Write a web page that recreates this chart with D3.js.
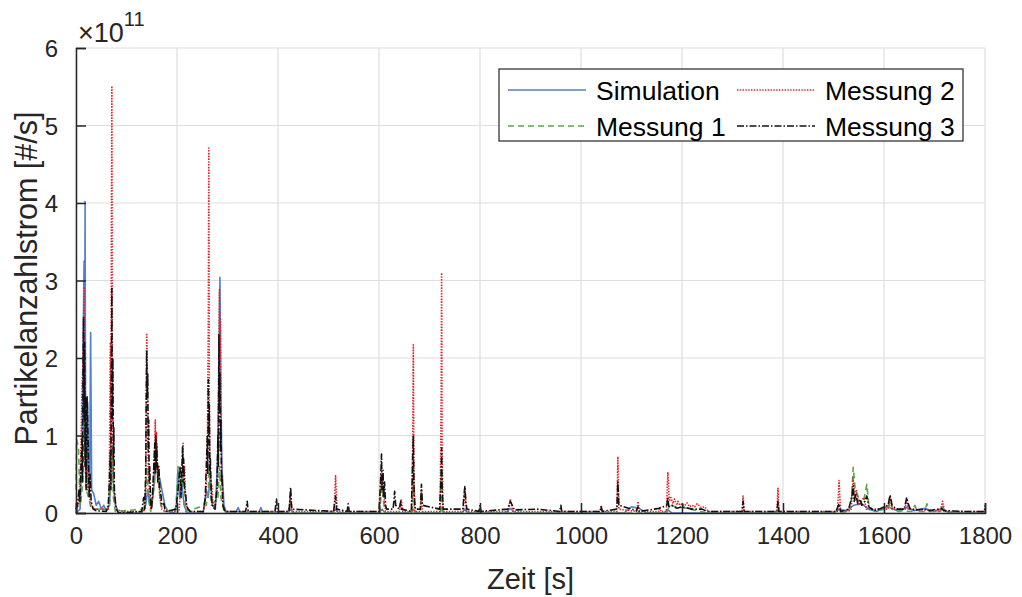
<!DOCTYPE html>
<html>
<head>
<meta charset="utf-8">
<script src="https://cdn.jsdelivr.net/npm/d3@7"></script>
<style>
  html, body { margin: 0; padding: 0; background: #fff; }
  svg { display: block; font-family: "Liberation Sans", Arial, Helvetica, sans-serif; }
</style>
</head>
<body>
<svg id="chart" width="1022" height="597"></svg>
<script>
// Particle number flow over time, in units of 1e11 #/s: [time s, value]
const simulation = [
  [0,0],[8,0.05],[11,0.6],[13,1.5],[16,3.25],[17,0.8],[18,4.02],[19,1.0],[21,0.4],[23,1.43],[25,0.6],[27,0.35],[29,2.33],[31,0.3],
  [35,0.25],[40,0.1],[45,0.15],[50,0.05],[55,0.1],[60,0.03],[66,0.1],[70,0.5],[72,0.85],[74,0.4],[78,0.1],[85,0],
  [130,0],[138,0.1],[142,0.3],[146,0.1],[152,0.2],[158,0.6],[164,0.5],[170,0.3],[176,0.1],[182,0.02],[195,0],
  [199,0.1],[202,0.55],[205,0.2],[210,0.35],[214,0.1],[220,0],[252,0],[258,0.3],[262,0.2],[266,0.5],[270,0.1],[276,0.05],
  [281,0.8],[283,1.8],[285,3.04],[287,1.5],[289,0.6],[293,0.1],[298,0],[316,0],[321,0.07],[326,0],[362,0],[366,0.07],[370,0],
  [420,0],[425,0.05],[430,0],[508,0],[514,0.05],[520,0],[600,0],[606,0.05],[612,0],[664,0],[668,0.05],[674,0],
  [720,0],[724,0.05],[730,0],[764,0],[770,0.05],[776,0],[850,0],[860,0.06],[870,0],[1085,0],[1100,0.08],[1115,0.06],[1130,0],
  [1165,0],[1172,0.04],[1180,0],[1500,0],[1512,0.05],[1525,0.02],[1540,0.1],[1555,0.12],[1570,0.05],[1585,0.02],
  [1605,0.08],[1615,0.06],[1630,0.02],[1645,0.07],[1660,0.03],[1680,0.06],[1700,0.02],[1715,0.06],[1730,0],[1800,0]
];

const messung1 = [
  [0,0.3],[1,0.95],[3,0.9],[5,0.85],[7,0.3],[9,0.1],[12,0.3],[14,0.5],[16,1.5],[18,0.8],[20,0.3],[25,0.2],[30,0.05],
  [66,0.05],[70,0.5],[72,0.8],[74,0.2],[78,0.02],[136,0.05],[140,0.6],[143,0.2],[148,0.02],
  [154,0.3],[157,0.5],[160,0.9],[163,0.4],[168,0.1],[175,0.02],[197,0.05],[200,0.3],[202,0.6],[206,0.5],[210,0.3],[213,0.5],[217,0.02],
  [258,0.1],[262,0.3],[264,0.6],[268,0.1],[281,0.2],[284,0.6],[287,0.2],[293,0.02],[420,0],[425,0.2],[428,0],
  [602,0],[605,0.4],[608,0.2],[612,0],[666,0],[668,0.6],[670,0],[722,0],[724,0.5],[726,0],[1170,0],[1175,0.1],[1190,0.08],[1210,0.06],[1250,0],
  [1530,0],[1536,0.2],[1539,0.59],[1543,0.3],[1550,0.2],[1558,0.1],[1566,0.37],[1570,0.1],[1580,0.03],[1608,0.05],[1612,0.15],[1618,0.03],
  [1655,0.02],[1661,0.1],[1666,0.02],[1680,0.02],[1685,0.12],[1690,0.02],[1712,0.02],[1716,0.1],[1720,0],[1800,0]
];

const messung2 = [
  [0,0.05],[5,0.1],[8,0.4],[10,0.9],[12,1.6],[14,2.0],[16,2.92],[17,1.2],[18,1.8],[19,0.5],[21,0.8],[23,0.3],[25,0.6],[27,0.2],[30,0.1],[35,0.05],
  [64,0.05],[66,0.4],[68,2.2],[69,0.8],[70,3.5],[71,5.51],[72,2.0],[73,1.0],[74,0.4],[76,0.2],[80,0.05],[90,0.02],
  [134,0.02],[136,0.05],[138,0.3],[139,1.3],[140,2.32],[141,2.0],[142,1.3],[143,0.6],[145,0.3],[148,0.05],
  [152,0.2],[155,0.6],[157,1.2],[158,0.7],[159,1.05],[161,0.5],[163,0.6],[166,0.2],[170,0.05],[176,0.02],
  [204,0.02],[207,0.3],[209,0.5],[211,0.7],[212,0.9],[213,0.5],[215,0.6],[217,0.2],[220,0.05],[226,0.02],
  [252,0.02],[257,0.2],[260,0.8],[262,2.5],[263,4.71],[264,1.5],[265,0.8],[267,0.3],[269,0.36],[271,0.1],[274,0.05],
  [280,0.3],[282,1.5],[284,2.88],[285,2.0],[286,2.5],[287,1.0],[289,0.4],[291,0.1],[295,0.02],
  [422,0.02],[425,0.25],[428,0.02],[511,0.02],[514,0.48],[517,0.02],[601,0.02],[604,0.5],[606,0.3],[608,0.47],[610,0.2],[613,0.02],
  [641,0.02],[644,0.18],[647,0.02],[665,0.02],[667,1.2],[668,2.17],[669,0.6],[671,0.02],[682,0.02],[684,0.3],[686,0.02],
  [721,0.02],[723,1.5],[724,3.1],[725,0.8],[727,0.02],[767,0.02],[770,0.33],[773,0.02],[856,0.02],[860,0.18],[865,0.02],
  [1038,0.02],[1040,0.1],[1042,0.02],[1071,0.02],[1073,0.73],[1075,0.05],[1110,0.02],[1113,0.15],[1116,0.02],
  [1154,0.02],[1156,0.08],[1158,0.02],[1169,0.02],[1172,0.52],[1175,0.15],[1178,0.2],[1182,0.12],[1185,0.18],[1190,0.1],[1192,0.15],
  [1196,0.1],[1200,0.12],[1205,0.09],[1210,0.13],[1215,0.08],[1220,0.1],[1225,0.08],[1230,0.12],[1238,0.07],[1245,0.08],[1252,0.02],
  [1319,0.02],[1321,0.22],[1323,0.02],[1388,0.02],[1390,0.32],[1392,0.02],[1508,0.02],[1511,0.42],[1514,0.02],
  [1535,0.05],[1539,0.45],[1542,0.15],[1545,0.3],[1550,0.1],[1560,0.2],[1565,0.05],[1608,0.05],[1612,0.22],[1616,0.05],
  [1642,0.05],[1645,0.18],[1648,0.05],[1712,0.03],[1716,0.15],[1720,0.02],[1800,0.02]
];

const messung3 = [
  [0,0.05],[3,0.1],[6,0.3],[8,0.15],[10,0.6],[12,1.0],[13,0.4],[14,1.8],[15,2.53],[16,1.2],[17,2.2],[18,0.6],[19,1.5],[20,0.3],
  [22,1.5],[24,0.9],[26,0.2],[28,0.5],[30,0.15],[34,0.05],[40,0.03],[60,0.02],[64,0.1],[66,0.4],[68,0.8],[69,0.3],[70,1.6],
  [71,2.9],[72,1.2],[73,2.0],[74,0.7],[75,1.1],[76,0.3],[78,0.15],[80,0.05],[84,0],[130,0.02],[134,0.2],[136,0.05],[138,0.5],
  [139,1.4],[140,2.1],[141,1.5],[142,1.8],[143,0.8],[144,1.2],[145,0.4],[146,0.6],[148,0.1],[150,0.05],[152,0.3],[154,0.6],
  [156,0.9],[157,0.5],[158,1.0],[159,0.6],[160,0.85],[162,0.4],[164,0.6],[166,0.3],[168,0.25],[170,0.1],[174,0.12],[176,0.05],
  [180,0.02],[198,0.05],[202,0.3],[206,0.6],[208,0.2],[211,0.85],[212,0.4],[213,0.7],[215,0.3],[217,0.25],[219,0.1],[222,0.05],
  [226,0.02],[252,0.02],[256,0.2],[258,0.6],[260,1.0],[261,0.5],[262,1.72],[263,1.0],[264,1.4],[265,0.5],[266,0.7],[268,0.2],
  [270,0.1],[275,0.05],[279,0.3],[281,1.0],[282,0.6],[283,2.3],[284,1.3],[285,1.8],[286,0.8],[287,1.2],[288,0.4],[289,0.5],
  [291,0.1],[295,0.02],[336,0.02],[339,0.15],[341,0.02],[394,0.02],[397,0.18],[399,0.02],[422,0.02],[425,0.33],[427,0.05],
  [510,0.02],[514,0.22],[516,0.05],[537,0.02],[539,0.12],[541,0.02],[600,0.02],[603,0.4],[605,0.76],[606,0.3],[608,0.55],
  [609,0.2],[611,0.4],[613,0.1],[615,0.05],[628,0.05],[631,0.28],[633,0.1],[640,0.05],[643,0.15],[645,0.05],[664,0.02],
  [666,0.5],[668,1.0],[669,0.4],[670,0.2],[672,0.05],[682,0.05],[684,0.37],[686,0.1],[720,0.05],[723,0.5],[724,0.84],
  [725,0.3],[727,0.05],[766,0.05],[768,0.2],[770,0.34],[772,0.15],[774,0.05],[798,0.02],[800,0.1],[802,0.02],[855,0.05],
  [860,0.15],[864,0.1],[868,0.04],[913,0.05],[958,0.02],[960,0.1],[962,0.02],[1038,0.02],[1040,0.08],[1042,0.02],[1071,0.05],
  [1073,0.4],[1075,0.1],[1110,0.03],[1113,0.08],[1115,0.02],[1155,0.06],[1170,0.1],[1172,0.2],[1174,0.08],[1180,0.1],
  [1190,0.06],[1200,0.08],[1220,0.05],[1240,0.05],[1250,0.02],[1319,0.02],[1321,0.15],[1323,0.02],[1388,0.02],[1390,0.15],
  [1392,0.02],[1505,0.02],[1511,0.12],[1514,0.02],[1530,0.05],[1536,0.2],[1539,0.35],[1541,0.15],[1544,0.25],[1548,0.12],
  [1552,0.18],[1556,0.1],[1562,0.15],[1566,0.22],[1570,0.08],[1580,0.03],[1590,0.05],[1608,0.1],[1612,0.23],[1616,0.1],
  [1625,0.05],[1640,0.05],[1645,0.2],[1648,0.12],[1652,0.05],[1665,0.04],[1680,0.05],[1690,0.03],[1714,0.06],[1718,0.03],
  [1760,0.02],[1799,0.02],[1800,0.1]
];

const xTicks = [0, 200, 400, 600, 800, 1000, 1200, 1400, 1600, 1800];
const yTicks = [0, 1, 2, 3, 4, 5, 6];

const seriesNames = ["Simulation", "Messung 1", "Messung 2", "Messung 3"];
const seriesData = [simulation, messung1, messung2, messung3];
const seriesStyle = [
  { color: "#4f7fd0", dash: null, width: 1.6 },
  { color: "#5aa845", dash: "6,4", width: 1.6 },
  { color: "#e0232b", dash: "1.4,1.4", width: 1.6 },
  { color: "#111111", dash: "7,2,1.5,2", width: 1.6 }
];

const svg = d3.select("#chart");
const margin = { left: 76, right: 37, top: 48, bottom: 84 };
const W = 1022, H = 597;
const x = d3.scaleLinear().domain([0, 1800]).range([margin.left, W - margin.right]);
const y = d3.scaleLinear().domain([0, 6]).range([H - margin.bottom, margin.top]);
const textColor = "#262626";

// grid
const grid = svg.append("g");
grid.selectAll("line.gx").data(xTicks).join("line")
  .attr("x1", d => x(d)).attr("x2", d => x(d))
  .attr("y1", y(0)).attr("y2", y(6))
  .attr("stroke", "#dedede").attr("stroke-width", 1.2);
grid.selectAll("line.gy").data(yTicks).join("line")
  .attr("y1", d => y(d)).attr("y2", d => y(d))
  .attr("x1", x(0)).attr("x2", x(1800))
  .attr("stroke", "#dedede").attr("stroke-width", 1.2);

// data lines
const plot = svg.append("g");
const line = d3.line().x(d => x(d[0])).y(d => y(d[1]));
seriesData.forEach((data, i) => {
  const s = seriesStyle[i];
  plot.append("path")
    .attr("d", line(data))
    .attr("fill", "none")
    .attr("stroke", s.color)
    .attr("stroke-width", s.width)
    .attr("stroke-linejoin", "round")
    .attr("stroke-dasharray", s.dash);
});

// axes with inward ticks
const xAxis = d3.axisBottom(x).tickValues(xTicks).tickSize(-10).tickPadding(22).tickFormat(d3.format("d"));
const yAxis = d3.axisLeft(y).tickValues(yTicks).tickSize(-10).tickPadding(18).tickFormat(d3.format("d"));

const gx = svg.append("g").attr("transform", `translate(0,${y(0)})`).call(xAxis);
const gy = svg.append("g").attr("transform", `translate(${x(0)},0)`).call(yAxis);
[gx, gy].forEach(g => {
  g.select(".domain").attr("stroke", textColor).attr("stroke-width", 1.5);
  g.selectAll(".tick line").attr("stroke", textColor).attr("stroke-width", 1.5);
  g.selectAll(".tick text").attr("fill", textColor)
    .style("font-family", "'Liberation Sans', Arial, sans-serif").style("font-size", "24px");
});
gx.selectAll(".tick text").attr("dy", "0.71em").attr("y", 14);
gy.selectAll(".tick text").attr("dy", "0.36em");

// exponent
const ex = svg.append("text").attr("x", x(0) + 2).attr("y", 42)
  .attr("fill", textColor).style("font-size", "27px");
ex.append("tspan").text("×10");
ex.append("tspan").attr("dy", -16).style("font-size", "20px").text("11");

// axis labels
svg.append("text").attr("x", (x(0) + x(1800)) / 2).attr("y", 589)
  .attr("text-anchor", "middle").attr("fill", textColor).style("font-size", "29px").text("Zeit [s]");
svg.append("text").attr("transform", `translate(37,${(y(0) + y(6)) / 2 - 2}) rotate(-90)`)
  .attr("text-anchor", "middle").attr("fill", textColor).style("font-size", "30.5px").text("Partikelanzahlstrom [#/s]");

// legend
const lg = svg.append("g");
lg.append("rect").attr("x", 499).attr("y", 69).attr("width", 464).attr("height", 72)
  .attr("fill", "#fff").attr("stroke", textColor).attr("stroke-width", 1.2);
const legendPos = [
  { lx: 508, ly: 90 }, { lx: 508, ly: 126 },
  { lx: 737, ly: 90 }, { lx: 737, ly: 126 }
];
seriesNames.forEach((name, i) => {
  const p = legendPos[i], s = seriesStyle[i];
  lg.append("line").attr("x1", p.lx).attr("x2", p.lx + 78).attr("y1", p.ly).attr("y2", p.ly)
    .attr("stroke", s.color).attr("stroke-width", 1.4).attr("stroke-dasharray", s.dash);
  lg.append("text").attr("x", p.lx + 88).attr("y", p.ly + 10)
    .attr("fill", "#000").style("font-size", "26.5px").text(name);
});
</script>
</body>
</html>
